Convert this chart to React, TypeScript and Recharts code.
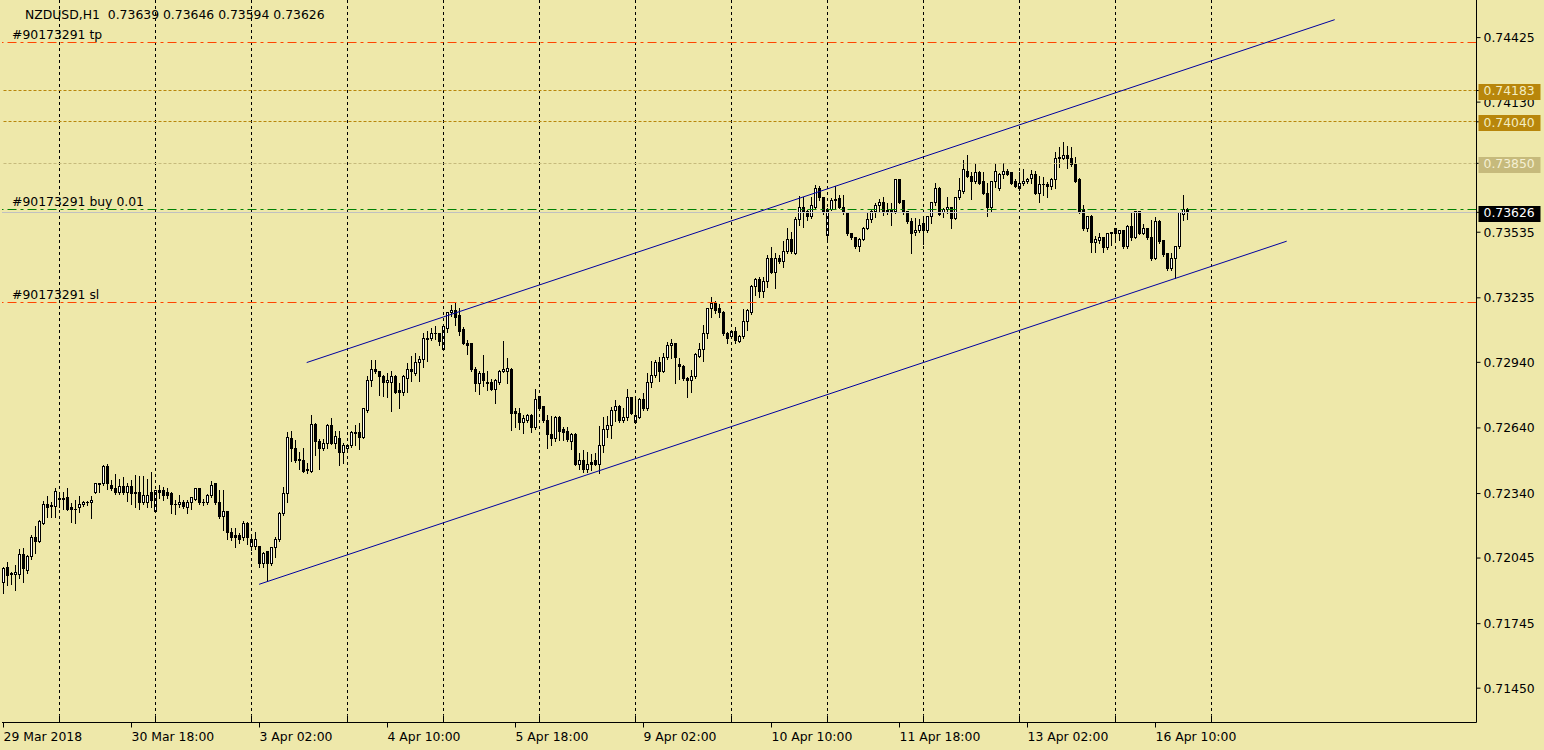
import React from 'react';
import { ComposedChart, Bar, XAxis, YAxis, ReferenceLine } from 'recharts';

const FONT = 'DejaVu Sans';
const FS = 12.4;
const BG = '#EEE8AA';

const OPEN = [
  0.71931,0.72004,0.71972,0.71972,0.71972,0.72059,0.71990,0.72050,0.72141,0.72123,
  0.72205,0.72288,0.72283,0.72283,0.72315,0.72316,0.72320,0.72274,0.72269,0.72274,
  0.72288,0.72297,0.72297,0.72347,0.72384,0.72384,0.72462,0.72379,0.72365,0.72343,
  0.72374,0.72347,0.72374,0.72343,0.72343,0.72297,0.72301,0.72347,0.72260,0.72356,
  0.72352,0.72343,0.72338,0.72292,0.72292,0.72301,0.72274,0.72297,0.72315,0.72361,
  0.72301,0.72297,0.72329,0.72384,0.72297,0.72233,0.72256,0.72160,0.72150,0.72146,
  0.72137,0.72201,0.72096,0.72096,0.72096,0.72022,0.72073,0.72022,0.72091,0.72128,
  0.72251,0.72338,0.72594,0.72548,0.72493,0.72489,0.72448,0.72443,0.72658,0.72576,
  0.72548,0.72571,0.72653,0.72571,0.72594,0.72526,0.72544,0.72558,0.72617,0.72621,
  0.72598,0.72718,0.72859,0.72905,0.72896,0.72877,0.72846,0.72850,0.72877,0.72809,
  0.72800,0.72868,0.72909,0.72891,0.72937,0.72955,0.73047,0.73047,0.73074,0.73070,
  0.73001,0.73097,0.73166,0.73179,0.73152,0.73088,0.73028,0.73024,0.72909,0.72841,
  0.72891,0.72841,0.72850,0.72818,0.72846,0.72900,0.72900,0.72909,0.72713,0.72708,
  0.72663,0.72672,0.72699,0.72640,0.72782,0.72736,0.72676,0.72612,0.72590,0.72690,
  0.72631,0.72626,0.72580,0.72612,0.72475,0.72493,0.72448,0.72484,0.72489,0.72475,
  0.72562,0.72635,0.72649,0.72718,0.72736,0.72672,0.72686,0.72777,0.72667,0.72690,
  0.72768,0.72727,0.72846,0.72882,0.72941,0.72900,0.72960,0.73015,0.73024,0.72928,
  0.72923,0.72868,0.72855,0.72873,0.72969,0.73001,0.73070,0.73184,0.73207,0.73184,
  0.73170,0.73074,0.73056,0.73079,0.73037,0.73056,0.73129,0.73166,0.73289,0.73321,
  0.73262,0.73308,0.73417,0.73353,0.73417,0.73399,0.73445,0.73504,0.73440,0.73595,
  0.73646,0.73628,0.73609,0.73650,0.73737,0.73692,0.73518,0.73641,0.73678,0.73687,
  0.73650,0.73623,0.73527,0.73509,0.73468,0.73504,0.73554,0.73595,0.73628,0.73655,
  0.73669,0.73632,0.73637,0.73632,0.73774,0.73678,0.73628,0.73586,0.73536,0.73541,
  0.73573,0.73541,0.73605,0.73669,0.73737,0.73623,0.73637,0.73646,0.73600,0.73692,
  0.73719,0.73815,0.73792,0.73765,0.73806,0.73765,0.73714,0.73650,0.73765,0.73737,
  0.73797,0.73815,0.73806,0.73765,0.73737,0.73760,0.73765,0.73783,0.73797,0.73714,
  0.73751,0.73751,0.73742,0.73778,0.73874,0.73874,0.73888,0.73874,0.73847,0.73774,
  0.73641,0.73550,0.73609,0.73486,0.73495,0.73509,0.73463,0.73527,0.73550,0.73527,
  0.73541,0.73468,0.73559,0.73513,0.73628,0.73531,0.73550,0.73513,0.73417,0.73586,
  0.73495,0.73436,0.73367,0.73417,0.73468,0.73618,0.73639,
];

const HIGH = [
  0.72004,0.72027,0.71981,0.72013,0.72086,0.72091,0.72059,0.72150,0.72192,0.72218,
  0.72306,0.72329,0.72301,0.72365,0.72333,0.72347,0.72365,0.72297,0.72310,0.72329,
  0.72306,0.72306,0.72329,0.72388,0.72386,0.72471,0.72475,0.72402,0.72429,0.72406,
  0.72416,0.72388,0.72402,0.72425,0.72420,0.72420,0.72406,0.72439,0.72358,0.72379,
  0.72370,0.72365,0.72347,0.72310,0.72333,0.72310,0.72310,0.72324,0.72364,0.72365,
  0.72315,0.72338,0.72397,0.72388,0.72356,0.72356,0.72260,0.72182,0.72182,0.72160,
  0.72214,0.72210,0.72150,0.72164,0.72100,0.72073,0.72077,0.72096,0.72141,0.72256,
  0.72370,0.72621,0.72626,0.72585,0.72530,0.72548,0.72480,0.72699,0.72663,0.72590,
  0.72590,0.72658,0.72685,0.72626,0.72626,0.72571,0.72565,0.72626,0.72653,0.72663,
  0.72731,0.72878,0.72951,0.72951,0.72900,0.72882,0.72891,0.72900,0.72882,0.72846,
  0.72882,0.72937,0.72969,0.72983,0.72969,0.73074,0.73083,0.73097,0.73106,0.73074,
  0.73106,0.73170,0.73202,0.73216,0.73189,0.73102,0.73042,0.73028,0.72919,0.72900,
  0.72974,0.72900,0.72864,0.72864,0.72905,0.73037,0.72960,0.72914,0.72731,0.72731,
  0.72699,0.72704,0.72704,0.72818,0.72786,0.72740,0.72699,0.72695,0.72695,0.72695,
  0.72645,0.72645,0.72615,0.72617,0.72526,0.72539,0.72530,0.72521,0.72526,0.72649,
  0.72690,0.72695,0.72736,0.72768,0.72745,0.72731,0.72818,0.72782,0.72772,0.72777,
  0.72800,0.72891,0.72946,0.72951,0.72964,0.72983,0.73033,0.73047,0.73028,0.72960,
  0.72928,0.72873,0.72905,0.72983,0.73028,0.73111,0.73189,0.73239,0.73221,0.73207,
  0.73175,0.73079,0.73083,0.73102,0.73065,0.73184,0.73184,0.73294,0.73326,0.73330,
  0.73330,0.73431,0.73468,0.73440,0.73431,0.73495,0.73554,0.73536,0.73605,0.73701,
  0.73696,0.73637,0.73696,0.73751,0.73746,0.73696,0.73646,0.73692,0.73746,0.73705,
  0.73705,0.73628,0.73531,0.73513,0.73509,0.73559,0.73628,0.73637,0.73669,0.73687,
  0.73696,0.73669,0.73669,0.73778,0.73778,0.73682,0.73632,0.73600,0.73600,0.73595,
  0.73595,0.73608,0.73673,0.73760,0.73742,0.73646,0.73696,0.73650,0.73696,0.73783,
  0.73865,0.73888,0.73811,0.73852,0.73815,0.73811,0.73760,0.73769,0.73852,0.73806,
  0.73852,0.73824,0.73811,0.73778,0.73811,0.73824,0.73783,0.73820,0.73815,0.73792,
  0.73788,0.73765,0.73783,0.73902,0.73925,0.73948,0.73929,0.73925,0.73879,0.73783,
  0.73660,0.73609,0.73614,0.73518,0.73531,0.73513,0.73531,0.73536,0.73554,0.73545,
  0.73545,0.73568,0.73628,0.73632,0.73632,0.73573,0.73554,0.73591,0.73605,0.73591,
  0.73500,0.73440,0.73440,0.73470,0.73626,0.73705,0.73646,
];

const LOW = [
  0.71885,0.71922,0.71926,0.71899,0.71954,0.71936,0.71977,0.72041,0.72068,0.72118,
  0.72201,0.72233,0.72233,0.72233,0.72279,0.72269,0.72265,0.72210,0.72205,0.72256,
  0.72283,0.72288,0.72228,0.72343,0.72347,0.72379,0.72361,0.72356,0.72338,0.72338,
  0.72338,0.72306,0.72292,0.72279,0.72269,0.72292,0.72279,0.72279,0.72256,0.72320,
  0.72310,0.72320,0.72251,0.72246,0.72279,0.72274,0.72251,0.72269,0.72310,0.72292,
  0.72288,0.72292,0.72324,0.72292,0.72230,0.72173,0.72132,0.72128,0.72096,0.72114,
  0.72128,0.72109,0.72082,0.72086,0.72004,0.72004,0.71945,0.72013,0.72050,0.72123,
  0.72242,0.72301,0.72489,0.72484,0.72452,0.72439,0.72434,0.72439,0.72516,0.72452,
  0.72539,0.72548,0.72567,0.72548,0.72471,0.72480,0.72539,0.72553,0.72562,0.72544,
  0.72594,0.72713,0.72832,0.72891,0.72791,0.72786,0.72782,0.72718,0.72800,0.72731,
  0.72791,0.72804,0.72855,0.72882,0.72855,0.72919,0.72946,0.73042,0.73047,0.73019,
  0.72997,0.73079,0.73152,0.73111,0.73065,0.73024,0.72978,0.72900,0.72809,0.72795,
  0.72832,0.72813,0.72813,0.72754,0.72841,0.72896,0.72846,0.72631,0.72645,0.72635,
  0.72617,0.72667,0.72621,0.72635,0.72722,0.72667,0.72548,0.72562,0.72580,0.72585,
  0.72585,0.72580,0.72544,0.72471,0.72452,0.72439,0.72439,0.72448,0.72471,0.72434,
  0.72530,0.72598,0.72594,0.72672,0.72667,0.72667,0.72676,0.72704,0.72663,0.72686,
  0.72722,0.72722,0.72827,0.72873,0.72855,0.72896,0.72955,0.72960,0.72846,0.72864,
  0.72859,0.72782,0.72804,0.72868,0.72964,0.72946,0.73051,0.73147,0.73166,0.73147,
  0.73065,0.73028,0.73051,0.73028,0.73033,0.73051,0.73088,0.73161,0.73248,0.73239,
  0.73239,0.73285,0.73349,0.73280,0.73394,0.73376,0.73440,0.73440,0.73436,0.73568,
  0.73559,0.73591,0.73600,0.73646,0.73682,0.73618,0.73504,0.73637,0.73646,0.73646,
  0.73618,0.73522,0.73504,0.73463,0.73449,0.73500,0.73550,0.73582,0.73605,0.73628,
  0.73614,0.73618,0.73568,0.73623,0.73669,0.73618,0.73577,0.73440,0.73522,0.73536,
  0.73481,0.73536,0.73577,0.73660,0.73614,0.73605,0.73623,0.73554,0.73595,0.73687,
  0.73714,0.73788,0.73687,0.73760,0.73756,0.73710,0.73609,0.73628,0.73742,0.73728,
  0.73783,0.73797,0.73756,0.73742,0.73728,0.73751,0.73760,0.73760,0.73710,0.73673,
  0.73705,0.73696,0.73733,0.73737,0.73833,0.73870,0.73829,0.73838,0.73765,0.73623,
  0.73545,0.73541,0.73445,0.73445,0.73486,0.73445,0.73458,0.73477,0.73500,0.73500,
  0.73463,0.73463,0.73500,0.73509,0.73527,0.73527,0.73504,0.73408,0.73413,0.73486,
  0.73427,0.73362,0.73362,0.73326,0.73463,0.73591,0.73594,
];

const CLOSE = [
  0.71999,0.71963,0.71974,0.71977,0.72059,0.71995,0.72050,0.72141,0.72123,0.72214,
  0.72288,0.72274,0.72287,0.72351,0.72317,0.72314,0.72269,0.72265,0.72268,0.72288,
  0.72297,0.72298,0.72306,0.72384,0.72383,0.72462,0.72384,0.72361,0.72343,0.72374,
  0.72347,0.72374,0.72338,0.72342,0.72297,0.72329,0.72333,0.72310,0.72356,0.72343,
  0.72329,0.72329,0.72292,0.72291,0.72301,0.72279,0.72301,0.72320,0.72361,0.72297,
  0.72297,0.72333,0.72379,0.72297,0.72237,0.72256,0.72160,0.72141,0.72141,0.72128,
  0.72205,0.72141,0.72132,0.72132,0.72022,0.72068,0.72022,0.72091,0.72128,0.72251,
  0.72338,0.72598,0.72544,0.72489,0.72494,0.72443,0.72447,0.72658,0.72576,0.72548,
  0.72571,0.72653,0.72571,0.72603,0.72526,0.72558,0.72562,0.72617,0.72616,0.72598,
  0.72727,0.72859,0.72909,0.72896,0.72877,0.72846,0.72855,0.72877,0.72804,0.72800,
  0.72873,0.72909,0.72900,0.72937,0.72955,0.73051,0.73046,0.73074,0.73073,0.73037,
  0.73102,0.73166,0.73175,0.73147,0.73083,0.73028,0.73015,0.72905,0.72841,0.72887,
  0.72855,0.72850,0.72818,0.72855,0.72900,0.72909,0.72910,0.72708,0.72704,0.72663,
  0.72681,0.72695,0.72640,0.72772,0.72727,0.72672,0.72612,0.72590,0.72690,0.72626,
  0.72621,0.72585,0.72612,0.72475,0.72493,0.72448,0.72475,0.72475,0.72475,0.72562,
  0.72635,0.72649,0.72718,0.72736,0.72672,0.72686,0.72777,0.72708,0.72699,0.72768,
  0.72727,0.72850,0.72882,0.72941,0.72896,0.72964,0.73019,0.73024,0.72964,0.72919,
  0.72864,0.72859,0.72877,0.72978,0.73001,0.73070,0.73184,0.73207,0.73175,0.73166,
  0.73070,0.73051,0.73079,0.73042,0.73056,0.73129,0.73175,0.73289,0.73321,0.73262,
  0.73308,0.73417,0.73353,0.73417,0.73399,0.73449,0.73504,0.73445,0.73595,0.73646,
  0.73623,0.73609,0.73655,0.73733,0.73692,0.73623,0.73641,0.73682,0.73683,0.73650,
  0.73623,0.73527,0.73509,0.73468,0.73504,0.73554,0.73595,0.73628,0.73655,0.73669,
  0.73623,0.73633,0.73628,0.73774,0.73673,0.73623,0.73582,0.73531,0.73545,0.73564,
  0.73545,0.73605,0.73669,0.73737,0.73618,0.73637,0.73646,0.73600,0.73692,0.73728,
  0.73820,0.73792,0.73765,0.73806,0.73760,0.73714,0.73650,0.73765,0.73811,0.73797,
  0.73815,0.73801,0.73760,0.73746,0.73760,0.73765,0.73778,0.73797,0.73714,0.73751,
  0.73752,0.73742,0.73778,0.73874,0.73875,0.73884,0.73870,0.73843,0.73769,0.73628,
  0.73550,0.73605,0.73486,0.73500,0.73509,0.73463,0.73527,0.73532,0.73527,0.73541,
  0.73468,0.73559,0.73513,0.73628,0.73531,0.73550,0.73509,0.73417,0.73586,0.73491,
  0.73431,0.73367,0.73417,0.73468,0.73623,0.73641,0.73626,
];

const X_TICKS = [0, 32, 64, 96, 128, 160, 192, 224, 256, 288];
const X_LABELS = ['29 Mar 2018', '30 Mar 18:00', '3 Apr 02:00', '4 Apr 10:00', '5 Apr 18:00',
  '9 Apr 02:00', '10 Apr 10:00', '11 Apr 18:00', '13 Apr 02:00', '16 Apr 10:00'];
const DAY_STARTS = [14, 38, 62, 86, 110, 134, 158, 182, 206, 230, 254, 278, 302];
const Y_TICKS = [0.74425, 0.74130, 0.73535, 0.73235, 0.72940, 0.72640, 0.72340, 0.72045, 0.71745, 0.71450];
const BOX_LEVELS = [0.74183, 0.74040, 0.73850, 0.73626];
const BOX_COLORS: Record<string, [string, string]> = {
  '0.74183': ['#B8860B', '#F3EDC0'],
  '0.74040': ['#B8860B', '#F3EDC0'],
  '0.73850': ['#C6BA7C', '#F5F0D2'],
  '0.73626': ['#000000', '#FFFFFF'],
};
const HEADER = 'NZDUSD,H1  0.73639 0.73646 0.73594 0.73626';
const TP_PRICE = 0.74404;
const SL_PRICE = 0.73213;
const BUY_PRICE = 0.73640;
const BID_PRICE = 0.73626;
const ALERT_LEVELS = [0.74183, 0.74040];
const ALERT_LIGHT = 0.73850;
const UPPER_CHANNEL = [{ x: 75.8, y: 0.72939 }, { x: 332.8, y: 0.74507 }];
const LOWER_CHANNEL = [{ x: 63.9, y: 0.71925 }, { x: 320.8, y: 0.73494 }];

const data = OPEN.map((o, i) => ({ i, o, h: HIGH[i], l: LOW[i], c: CLOSE[i], range: [LOW[i], HIGH[i]] }));

const snap = (v: number) => Math.round(v - 0.5) + 0.5;

function Candle(props: any) {
  const { x, y, width, height, payload } = props;
  if (!payload || x == null || y == null) return null;
  const { o, h, l, c } = payload;
  const cx = snap(x + width / 2);
  const k = h > l ? height / (h - l) : 0;
  const py = (v: number) => y + (h - v) * k;
  const yH = Math.round(py(h));
  const yL = Math.round(py(l)) + 1;
  const bt = snap(py(Math.max(o, c)));
  const bb = snap(py(Math.min(o, c)));
  const up = c >= o;
  return (
    <g>
      <line x1={cx} x2={cx} y1={yH} y2={yL} stroke="#000" strokeWidth={1} />
      {bb - bt < 1 ? (
        <line x1={cx - 1.5} x2={cx + 1.5} y1={bt} y2={bt} stroke="#000" strokeWidth={1} />
      ) : (
        <rect x={cx - 1} y={bt} width={2} height={bb - bt} fill={up ? '#FFFFFF' : '#000000'} stroke="#000" strokeWidth={1} />
      )}
    </g>
  );
}

const hShape = (stroke: string, dash?: string) => (p: any) => {
  const y = snap(p.y1);
  return <line x1={p.x1} x2={p.x2} y1={y} y2={y} stroke={stroke} strokeWidth={1} strokeDasharray={dash} />;
};

const gridShape = (p: any) => {
  const top = Math.min(p.y1, p.y2);
  const bot = Math.max(p.y1, p.y2);
  const x = snap(p.x1);
  return (
    <g>
      <line x1={x} x2={x} y1={top} y2={bot - 7} stroke="#000" strokeWidth={1} strokeDasharray="3 3" />
      <line x1={x} x2={x} y1={bot - 7} y2={bot} stroke="#000" strokeWidth={1} />
    </g>
  );
};

const leftLabel = (text: string) => (p: any) => {
  const vb = p.viewBox || { x: 0, y: 0 };
  return (
    <text x={vb.x + 10} y={snap(vb.y) - 4} fontFamily={FONT} fontSize={FS} fill="#000">{text}</text>
  );
};

function RightTick(p: any) {
  const v: number = p.payload.value;
  const key = v.toFixed(5);
  const box = BOX_COLORS[key];
  if (box && BOX_LEVELS.includes(v)) {
    const top = Math.round(p.y - 6.5);
    return (
      <g>
        <rect x={p.x - 5} y={top} width={62} height={16} fill={box[0]} />
        <text x={p.x} y={p.y + 0.5} dy="0.355em" fontFamily={FONT} fontSize={FS} fill={box[1]}>{key}</text>
      </g>
    );
  }
  return (
    <text x={p.x} y={p.y} dy="0.355em" fontFamily={FONT} fontSize={FS} fill="#000">{key}</text>
  );
}

function BottomTick(p: any) {
  const idx = X_TICKS.indexOf(p.payload.value);
  return (
    <text x={p.x} y={p.y + 9.4} fontFamily={FONT} fontSize={FS} fill="#000" textAnchor="start">
      {idx >= 0 ? X_LABELS[idx] : ''}
    </text>
  );
}

export default function App() {
  return (
    <div style={{ position: 'relative', width: 1544, height: 750, background: BG, overflow: 'hidden' }}>
      <style>{'html,body{margin:0;padding:0;background:#EEE8AA;}'}</style>
      <ComposedChart width={1544} height={750} data={data} margin={{ top: 0, right: 0, bottom: 0, left: 2 }}>
        <XAxis
          dataKey="i"
          type="number"
          domain={[-0.375, 368.25]}
          allowDataOverflow
          ticks={X_TICKS}
          interval={0}
          tick={BottomTick}
          tickSize={5}
          tickMargin={4}
          axisLine={{ stroke: '#000' }}
          tickLine={{ stroke: '#000' }}
          height={27.5}
        />
        <YAxis
          orientation="right"
          type="number"
          domain={[0.71293, 0.74597]}
          allowDataOverflow
          ticks={[...Y_TICKS, ...BOX_LEVELS]}
          interval={0}
          tick={RightTick}
          tickSize={4}
          tickMargin={3}
          axisLine={{ stroke: '#000' }}
          tickLine={{ stroke: '#000' }}
          width={67.5}
        />
        {DAY_STARTS.map((d) => (
          <ReferenceLine key={'g' + d} x={d} stroke="#000" ifOverflow="visible" shape={gridShape} />
        ))}
        <ReferenceLine y={TP_PRICE} stroke="#FF4500" shape={hShape('#FF4500', '9 4 3 4')} label={leftLabel('#90173291 tp')} />
        {ALERT_LEVELS.map((v) => (
          <ReferenceLine key={'a' + v} y={v} stroke="#B8860B" shape={hShape('#B8860B', '3 2')} />
        ))}
        <ReferenceLine y={ALERT_LIGHT} stroke="#C6BA7C" shape={hShape('#C6BA7C', '3 2')} />
        <ReferenceLine y={BID_PRICE} stroke="#C0C0C0" shape={hShape('#C0C0C0')} />
        <ReferenceLine y={BUY_PRICE} stroke="#008000" shape={hShape('#008000', '9 4 3 4')} label={leftLabel('#90173291 buy 0.01')} />
        <ReferenceLine y={SL_PRICE} stroke="#FF4500" shape={hShape('#FF4500', '9 4 3 4')} label={leftLabel('#90173291 sl')} />
        <ReferenceLine segment={UPPER_CHANNEL} stroke="#0000A0" strokeWidth={1} ifOverflow="visible" />
        <ReferenceLine segment={LOWER_CHANNEL} stroke="#0000A0" strokeWidth={1} ifOverflow="visible" />
        <Bar dataKey="range" shape={Candle} isAnimationActive={false} barSize={3} />
      </ComposedChart>
      <svg width={1544} height={30} style={{ position: 'absolute', left: 0, top: 0, pointerEvents: 'none' }}>
        <text x={25} y={19} fontFamily={FONT} fontSize={FS} fill="#000" style={{ whiteSpace: 'pre' }}>{HEADER}</text>
      </svg>
    </div>
  );
}
